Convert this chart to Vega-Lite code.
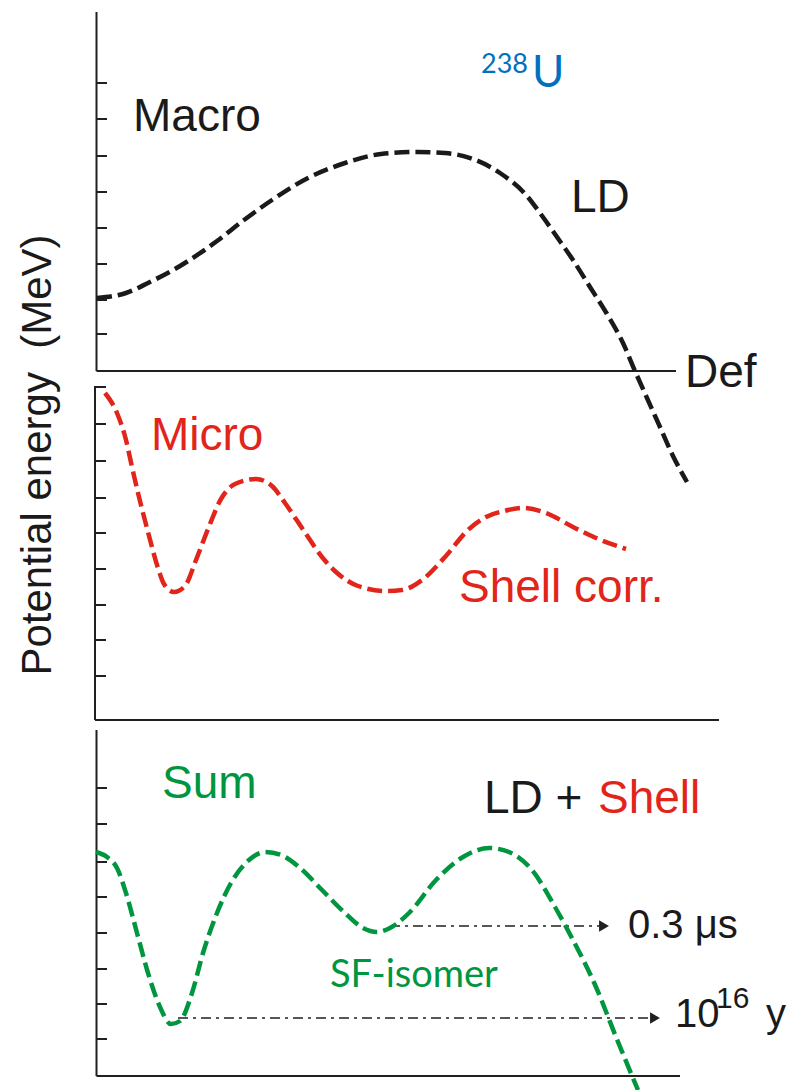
{
  "$schema": "https://vega.github.io/schema/vega-lite/v6.json",
  "width": 792,
  "height": 1090,
  "autosize": {"type": "none"},
  "padding": 0,
  "background": "white",
  "config": {"view": {"stroke": null}},
  "datasets": {
    "axes": [
      {"x": 96.5, "y": 12, "x2": 96.5, "y2": 371},
      {"x": 96.5, "y": 371, "x2": 676, "y2": 371},
      {"x": 96.5, "y": 83, "x2": 107, "y2": 83},
      {"x": 96.5, "y": 119, "x2": 107, "y2": 119},
      {"x": 96.5, "y": 156, "x2": 107, "y2": 156},
      {"x": 96.5, "y": 192, "x2": 107, "y2": 192},
      {"x": 96.5, "y": 228, "x2": 107, "y2": 228},
      {"x": 96.5, "y": 264, "x2": 107, "y2": 264},
      {"x": 96.5, "y": 300, "x2": 107, "y2": 300},
      {"x": 96.5, "y": 334, "x2": 107, "y2": 334},
      {"x": 95, "y": 386, "x2": 95, "y2": 720},
      {"x": 95, "y": 720, "x2": 719, "y2": 720},
      {"x": 95, "y": 387, "x2": 106, "y2": 387},
      {"x": 95, "y": 424, "x2": 106, "y2": 424},
      {"x": 95, "y": 461, "x2": 106, "y2": 461},
      {"x": 95, "y": 498, "x2": 106, "y2": 498},
      {"x": 95, "y": 533, "x2": 106, "y2": 533},
      {"x": 95, "y": 569, "x2": 106, "y2": 569},
      {"x": 95, "y": 605, "x2": 106, "y2": 605},
      {"x": 95, "y": 640, "x2": 106, "y2": 640},
      {"x": 95, "y": 676, "x2": 106, "y2": 676},
      {"x": 96.5, "y": 730, "x2": 96.5, "y2": 1076},
      {"x": 96.5, "y": 1076, "x2": 680, "y2": 1076},
      {"x": 96.5, "y": 788, "x2": 107, "y2": 788},
      {"x": 96.5, "y": 824, "x2": 107, "y2": 824},
      {"x": 96.5, "y": 862, "x2": 107, "y2": 862},
      {"x": 96.5, "y": 897, "x2": 107, "y2": 897},
      {"x": 96.5, "y": 933, "x2": 107, "y2": 933},
      {"x": 96.5, "y": 969, "x2": 107, "y2": 969},
      {"x": 96.5, "y": 1004, "x2": 107, "y2": 1004},
      {"x": 96.5, "y": 1039, "x2": 107, "y2": 1039}
    ],
    "curves": [
      {"s": "LD", "x": 97, "y": 298},
      {"s": "LD", "x": 126, "y": 293},
      {"s": "LD", "x": 148, "y": 283},
      {"s": "LD", "x": 180, "y": 266},
      {"s": "LD", "x": 217, "y": 241},
      {"s": "LD", "x": 244, "y": 220},
      {"s": "LD", "x": 272, "y": 200},
      {"s": "LD", "x": 308, "y": 178},
      {"s": "LD", "x": 345, "y": 163},
      {"s": "LD", "x": 381, "y": 154},
      {"s": "LD", "x": 418, "y": 152},
      {"s": "LD", "x": 445, "y": 153},
      {"s": "LD", "x": 473, "y": 159},
      {"s": "LD", "x": 500, "y": 173},
      {"s": "LD", "x": 527, "y": 196},
      {"s": "LD", "x": 540, "y": 213},
      {"s": "LD", "x": 557, "y": 237},
      {"s": "LD", "x": 573, "y": 260},
      {"s": "LD", "x": 590, "y": 287},
      {"s": "LD", "x": 607, "y": 314},
      {"s": "LD", "x": 623, "y": 343},
      {"s": "LD", "x": 635, "y": 371},
      {"s": "LD", "x": 647, "y": 398},
      {"s": "LD", "x": 660, "y": 427},
      {"s": "LD", "x": 673, "y": 456},
      {"s": "LD", "x": 687, "y": 482},
      {"s": "Shell", "x": 105, "y": 393},
      {"s": "Shell", "x": 117, "y": 413},
      {"s": "Shell", "x": 126, "y": 440},
      {"s": "Shell", "x": 132, "y": 467},
      {"s": "Shell", "x": 139, "y": 497},
      {"s": "Shell", "x": 148, "y": 532},
      {"s": "Shell", "x": 158, "y": 568},
      {"s": "Shell", "x": 164, "y": 584},
      {"s": "Shell", "x": 174, "y": 592},
      {"s": "Shell", "x": 185, "y": 586},
      {"s": "Shell", "x": 196, "y": 560},
      {"s": "Shell", "x": 208, "y": 529},
      {"s": "Shell", "x": 221, "y": 499},
      {"s": "Shell", "x": 235, "y": 484},
      {"s": "Shell", "x": 256, "y": 479},
      {"s": "Shell", "x": 272, "y": 486},
      {"s": "Shell", "x": 285, "y": 503},
      {"s": "Shell", "x": 304, "y": 531},
      {"s": "Shell", "x": 322, "y": 557},
      {"s": "Shell", "x": 336, "y": 572},
      {"s": "Shell", "x": 358, "y": 586},
      {"s": "Shell", "x": 386, "y": 591},
      {"s": "Shell", "x": 402, "y": 590},
      {"s": "Shell", "x": 422, "y": 580},
      {"s": "Shell", "x": 445, "y": 557},
      {"s": "Shell", "x": 468, "y": 530},
      {"s": "Shell", "x": 486, "y": 517},
      {"s": "Shell", "x": 504, "y": 511},
      {"s": "Shell", "x": 523, "y": 508},
      {"s": "Shell", "x": 546, "y": 513},
      {"s": "Shell", "x": 573, "y": 527},
      {"s": "Shell", "x": 596, "y": 538},
      {"s": "Shell", "x": 626, "y": 549},
      {"s": "Sum", "x": 96, "y": 852},
      {"s": "Sum", "x": 107, "y": 857},
      {"s": "Sum", "x": 117, "y": 868},
      {"s": "Sum", "x": 126, "y": 893},
      {"s": "Sum", "x": 137, "y": 933},
      {"s": "Sum", "x": 148, "y": 973},
      {"s": "Sum", "x": 160, "y": 1007},
      {"s": "Sum", "x": 171, "y": 1024},
      {"s": "Sum", "x": 180, "y": 1021},
      {"s": "Sum", "x": 192, "y": 993},
      {"s": "Sum", "x": 203, "y": 953},
      {"s": "Sum", "x": 217, "y": 913},
      {"s": "Sum", "x": 231, "y": 883},
      {"s": "Sum", "x": 249, "y": 860},
      {"s": "Sum", "x": 265, "y": 852},
      {"s": "Sum", "x": 281, "y": 855},
      {"s": "Sum", "x": 299, "y": 867},
      {"s": "Sum", "x": 322, "y": 890},
      {"s": "Sum", "x": 345, "y": 913},
      {"s": "Sum", "x": 363, "y": 928},
      {"s": "Sum", "x": 377, "y": 932},
      {"s": "Sum", "x": 390, "y": 928},
      {"s": "Sum", "x": 409, "y": 913},
      {"s": "Sum", "x": 436, "y": 880},
      {"s": "Sum", "x": 463, "y": 857},
      {"s": "Sum", "x": 489, "y": 848},
      {"s": "Sum", "x": 509, "y": 852},
      {"s": "Sum", "x": 532, "y": 870},
      {"s": "Sum", "x": 555, "y": 907},
      {"s": "Sum", "x": 573, "y": 940},
      {"s": "Sum", "x": 596, "y": 987},
      {"s": "Sum", "x": 616, "y": 1037},
      {"s": "Sum", "x": 638, "y": 1090}
    ],
    "arrows": [
      {"x": 390, "y": 926, "x2": 600},
      {"x": 178, "y": 1018, "x2": 651}
    ],
    "heads": [
      {"x": 604, "y": 926},
      {"x": 655, "y": 1018}
    ],
    "bigText": [
      {"t": "Macro", "s": "Note", "x": 133, "y": 131},
      {"t": "LD", "s": "Note", "x": 571, "y": 212},
      {"t": "Def", "s": "Note", "x": 685, "y": 387},
      {"t": "Micro", "s": "Shell", "x": 151, "y": 450},
      {"t": "Shell corr.", "s": "Shell", "x": 459, "y": 602},
      {"t": "Sum", "s": "Sum", "x": 162, "y": 798},
      {"t": "LD +", "s": "Note", "x": 484, "y": 813},
      {"t": "Shell", "s": "Shell", "x": 598, "y": 813}
    ],
    "midText": [
      {"t": "0.3 μs", "s": "Note", "x": 628, "y": 938},
      {"t": "10", "s": "Note", "x": 675, "y": 1027},
      {"t": "y", "s": "Note", "x": 766, "y": 1027}
    ],
    "supText": [
      {"t": "16", "s": "Note", "x": 716, "y": 1008}
    ],
    "isoText": [
      {"t": "SF-isomer", "s": "Sum", "x": 330, "y": 987}
    ],
    "uText": [
      {"t": "U", "s": "U238", "x": 532, "y": 87}
    ],
    "uSup": [
      {"t": "238", "s": "U238", "x": 481, "y": 73}
    ],
    "yTitle": [
      {"t": "Potential energy\u00a0\u00a0(MeV)", "s": "Note", "x": 51, "y": 455}
    ]
  },
  "encoding": {
    "x": {"field": "x", "type": "quantitative", "scale": {"domain": [0, 792], "nice": false, "zero": false}, "axis": null},
    "y": {"field": "y", "type": "quantitative", "scale": {"domain": [0, 1090], "nice": false, "zero": false, "reverse": true}, "axis": null}
  },
  "layer": [
    {
      "data": {"name": "axes"},
      "mark": {"type": "rule", "color": "#231F20", "strokeWidth": 2},
      "encoding": {
        "x2": {"field": "x2"},
        "y2": {"field": "y2"}
      }
    },
    {
      "data": {"name": "arrows"},
      "mark": {"type": "rule", "color": "#231F20", "strokeWidth": 1.6, "strokeDash": [10, 5, 3, 5]},
      "encoding": {
        "x2": {"field": "x2"}
      }
    },
    {
      "data": {"name": "heads"},
      "mark": {"type": "point", "shape": "triangle-right", "filled": true, "color": "#231F20", "size": 130, "opacity": 1}
    },
    {
      "data": {"name": "curves"},
      "mark": {"type": "line", "interpolate": "monotone", "strokeWidth": 4.5, "strokeDash": [15, 6]},
      "encoding": {
        "color": {"field": "s", "type": "nominal", "legend": null,
          "scale": {"domain": ["LD", "Shell", "Sum", "U238", "Note"], "range": ["#1a1a1a", "#E1251B", "#009640", "#0070C0", "#1a1a1a"]}},
        "detail": {"field": "s"}
      }
    },
    {
      "data": {"name": "bigText"},
      "mark": {"type": "text", "font": "Liberation Sans", "fontSize": 46, "align": "left", "baseline": "alphabetic"},
      "encoding": {
        "text": {"field": "t"},
        "color": {"field": "s", "type": "nominal", "legend": null}
      }
    },
    {
      "data": {"name": "midText"},
      "mark": {"type": "text", "font": "Liberation Sans", "fontSize": 40, "align": "left", "baseline": "alphabetic"},
      "encoding": {
        "text": {"field": "t"},
        "color": {"field": "s", "type": "nominal", "legend": null}
      }
    },
    {
      "data": {"name": "supText"},
      "mark": {"type": "text", "font": "Liberation Sans", "fontSize": 30, "align": "left", "baseline": "alphabetic"},
      "encoding": {
        "text": {"field": "t"},
        "color": {"field": "s", "type": "nominal", "legend": null}
      }
    },
    {
      "data": {"name": "isoText"},
      "mark": {"type": "text", "font": "Lato", "fontSize": 38, "align": "left", "baseline": "alphabetic"},
      "encoding": {
        "text": {"field": "t"},
        "color": {"field": "s", "type": "nominal", "legend": null}
      }
    },
    {
      "data": {"name": "uText"},
      "mark": {"type": "text", "font": "Lato", "fontSize": 44, "align": "left", "baseline": "alphabetic"},
      "encoding": {
        "text": {"field": "t"},
        "color": {"field": "s", "type": "nominal", "legend": null}
      }
    },
    {
      "data": {"name": "uSup"},
      "mark": {"type": "text", "font": "Lato", "fontSize": 27, "align": "left", "baseline": "alphabetic"},
      "encoding": {
        "text": {"field": "t"},
        "color": {"field": "s", "type": "nominal", "legend": null}
      }
    },
    {
      "data": {"name": "yTitle"},
      "mark": {"type": "text", "font": "Liberation Sans", "fontSize": 42, "align": "center", "baseline": "alphabetic", "angle": 270},
      "encoding": {
        "text": {"field": "t"},
        "color": {"field": "s", "type": "nominal", "legend": null}
      }
    }
  ]
}
